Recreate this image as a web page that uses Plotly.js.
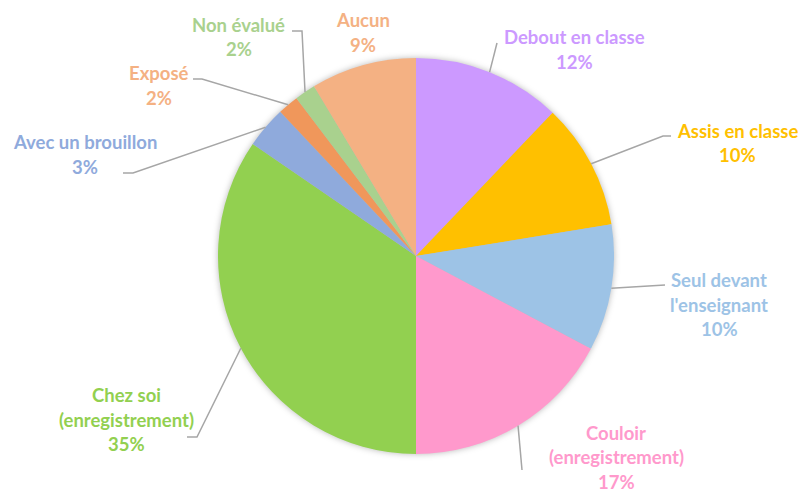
<!DOCTYPE html>
<html>
<head>
<meta charset="utf-8">
<script src="https://cdn.plot.ly/plotly-3.0.1.min.js"></script>
<style>
  html, body { margin: 0; padding: 0; background: #fff; }
  #chart { width: 802px; height: 490px; }
  .pielayer { filter: drop-shadow(0px 0px 3px rgba(0,0,0,0.28)); }
</style>
</head>
<body>
<div id="chart"></div>
<script>
// ---- data ----
const categories = ['Debout en classe', 'Assis en classe', "Seul devant\nl'enseignant",
  'Couloir\n(enregistrement)', 'Chez soi\n(enregistrement)', 'Avec un brouillon',
  'Exposé', 'Non évalué', 'Aucun'];
const shares = [12.1, 10.3, 10.3, 17.2, 34.5, 3.4, 1.7, 1.7, 8.6];

// ---- styles ----
const sliceColors = ['#CC99FF', '#FFC000', '#9DC3E6', '#FF99CC', '#92D050', '#8FAADC', '#F0975B', '#A9D18E', '#F4B183'];
const textColors  = ['#CC99FF', '#FFC000', '#9DC3E6', '#FF99CC', '#92D050', '#8FAADC', '#F4B183', '#A9D18E', '#F4B183'];

// label layout (pixels): centre x, first-line centre y
const labelAnchor = [[574, 37], [737, 130.5], [719, 280], [616, 432.5], [127, 395], [85, 142], [159, 73], [239, 24.5], [363, 20]];
// leader line layout (pixels): null = no leader; list of points from pie edge outwards
const leaderPts = [[[497, 43]], [[663, 136], [671, 136]], [[665, 285]], [[522, 470]],
  [[197, 437], [187, 437]], [[133, 173], [123, 173]], [[202, 79], [193, 79]], [[302, 31], [292, 31]], null];

const W = 802, H = 490;
const FONT = 'Lato, "Open Sans", sans-serif';
const FONT_SIZE = 18.5;
const LINE_H = 24.6;

// pie geometry (pixels)
const pieCx = 416, pieCy = 256, pieR = 198;
const domX = [(pieCx - pieR) / W, (pieCx + pieR) / W];
const domY = [(H - pieCy - pieR) / H, (H - pieCy + pieR) / H];

const total = shares.reduce((a, b) => a + b, 0);
const px = x => x / W;
const py = y => 1 - y / H;

const annotations = [];
const shapes = [];
let cum = 0;
shares.forEach((v, i) => {
  const frac = v / total;
  const mid = (cum + frac / 2) * 2 * Math.PI; // clockwise from 12 o'clock
  cum += frac;
  const pct = Math.round(frac * 100) + '%';
  const lines = categories[i].split('\n').concat([pct]);
  const [lx, ly] = labelAnchor[i];
  lines.forEach((t, k) => {
    annotations.push({
      xref: 'paper', yref: 'paper', x: px(lx), y: py(ly + k * LINE_H),
      xanchor: 'center', yanchor: 'middle', showarrow: false, text: t,
      font: { family: FONT, size: FONT_SIZE, color: textColors[i], weight: 'bold' }
    });
  });
  if (leaderPts[i]) {
    const ex = pieCx + pieR * Math.sin(mid);
    const ey = pieCy - pieR * Math.cos(mid);
    const pts = [[ex, ey]].concat(leaderPts[i]);
    let path = '';
    pts.forEach((p, k) => { path += (k ? ' L ' : 'M ') + px(p[0]) + ',' + py(p[1]); });
    shapes.push({ type: 'path', xref: 'paper', yref: 'paper', path: path,
      line: { color: '#A6A6A6', width: 1.5 } });
  }
});

const trace = {
  type: 'pie',
  labels: categories.map(c => c.replace('\n', ' ')),
  values: shares,
  sort: false,
  direction: 'clockwise',
  rotation: 0,
  textinfo: 'none',
  hoverinfo: 'skip',
  marker: { colors: sliceColors, line: { width: 0 } },
  domain: { x: domX, y: domY },
  automargin: false,
  showlegend: false
};

const layout = {
  width: W, height: H,
  margin: { l: 0, r: 0, t: 0, b: 0 },
  paper_bgcolor: '#ffffff',
  showlegend: false,
  annotations: annotations,
  shapes: shapes
};

Plotly.newPlot('chart', [trace], layout, { staticPlot: true, displayModeBar: false });
</script>
</body>
</html>
